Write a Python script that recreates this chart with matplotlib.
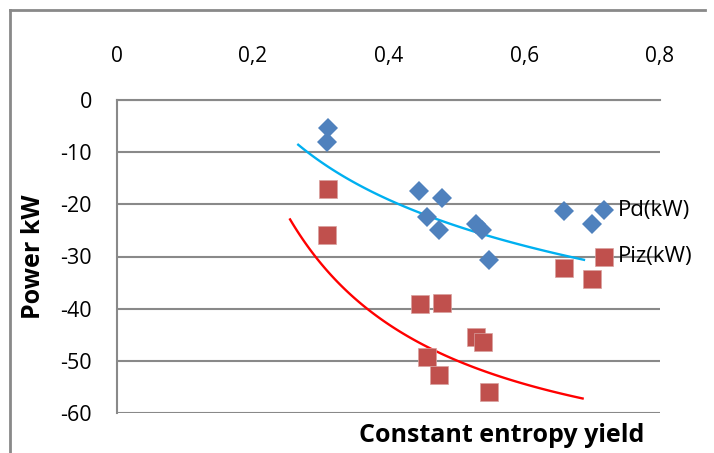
import matplotlib
matplotlib.use('Agg')
import matplotlib.pyplot as plt
from matplotlib.lines import Line2D
import numpy as np

pd_x = [0.311, 0.309, 0.445, 0.479, 0.457, 0.475, 0.529, 0.538, 0.548, 0.659, 0.700, 0.718]
pd_y = [-5.4, -8.0, -17.4, -18.7, -22.5, -25.0, -23.8, -24.9, -30.7, -21.3, -23.8, -21.1]

piz_x = [0.311, 0.309, 0.446, 0.479, 0.529, 0.539, 0.457, 0.475, 0.548, 0.659, 0.700, 0.717]
piz_y = [-17.1, -25.9, -39.2, -39.0, -45.4, -46.4, -49.3, -52.7, -56.0, -32.3, -34.3, -30.0]

# trend lines, points
pd_trend_x = [0.267, 0.338, 0.412, 0.461, 0.535, 0.608, 0.688]
pd_trend_y = [-8.9, -14.1, -19.9, -23.0, -25.6, -28.1, -30.5]
piz_trend_x = [0.255, 0.289, 0.363, 0.461, 0.535, 0.608, 0.686]
piz_trend_y = [-22.4, -30.0, -39.9, -47.3, -51.1, -54.6, -57.7]

x_ticks = [0, 0.2, 0.4, 0.6, 0.8]
x_labels = ['0', '0,2', '0,4', '0,6', '0,8']
y_ticks = [0, -10, -20, -30, -40, -50, -60]
y_labels = ['0', '-10', '-20', '-30', '-40', '-50', '-60']

plt.rcParams['font.family'] = ['Open Sans', 'DejaVu Sans']

grey = '#898989'
fig = plt.figure(figsize=(7.14, 4.53), dpi=100)
ax = fig.add_axes([117 / 714, 40 / 453, 543 / 714, 313 / 453])


def smooth(xs, ys):
    # least squares on 1, ln(x), 1/x -> smooth decreasing curve
    xs = np.asarray(xs)
    A = np.column_stack([np.ones_like(xs), np.log(xs), 1 / xs])
    c, *_ = np.linalg.lstsq(A, np.asarray(ys), rcond=None)
    xx = np.linspace(xs.min(), xs.max(), 120)
    return xx, c[0] + c[1] * np.log(xx) + c[2] / xx


tx, ty = smooth(pd_trend_x, pd_trend_y)
ax.plot(tx, ty, color='#00B0F0', lw=1.7, zorder=2)
tx, ty = smooth(piz_trend_x, piz_trend_y)
ax.plot(tx, ty, color='#FF0000', lw=1.7, zorder=2)

ax.plot(pd_x, pd_y, 'D', color='#4F81BD', markersize=9.8, markeredgewidth=0, zorder=3)
ax.plot(piz_x, piz_y, 's', color='#C0504D', markersize=13.5, markeredgecolor='#D8A09E',
        markeredgewidth=0.5, zorder=3)

ax.annotate('Pd(kW)', (pd_x[-1], pd_y[-1]), xytext=(10, 0), textcoords='offset points',
            va='center', ha='left', fontsize=16, annotation_clip=False)
ax.annotate('Piz(kW)', (piz_x[-1], piz_y[-1]), xytext=(10, 0), textcoords='offset points',
            va='center', ha='left', fontsize=16, annotation_clip=False)

ax.set_xlim(0, 0.8)
ax.set_ylim(-60, 0)
ax.xaxis.tick_top()
ax.set_xticks(x_ticks)
ax.set_xticklabels(x_labels, fontsize=15)
ax.set_yticks(y_ticks)
ax.set_yticklabels(y_labels, fontsize=15.5)
ax.tick_params(axis='x', length=0, pad=24)
ax.tick_params(axis='y', length=0, pad=18)

ax.grid(axis='y', color=grey, lw=1.5)
ax.set_axisbelow(True)
for s in ['right', 'bottom']:
    ax.spines[s].set_visible(False)
for s in ['left', 'top']:
    ax.spines[s].set_color(grey)
    ax.spines[s].set_linewidth(1.5)

ax.xaxis.set_label_position('bottom')
ax.set_xlabel('Constant entropy yield', fontsize=18, fontweight='bold', va='center')
ax.xaxis.set_label_coords((502 - 117) / 543, (413 - 436) / 313)
ax.set_ylabel('Power kW', fontsize=18, fontweight='bold', va='center')
ax.yaxis.set_label_coords((33 - 117) / 543, 0.5)

# outer chart frame (only top and left visible)
fig.add_artist(Line2D([10 / 714, 10 / 714], [0, 1 - 10 / 453], color=grey, lw=2))
fig.add_artist(Line2D([10 / 714, 705 / 714], [1 - 10 / 453, 1 - 10 / 453], color=grey, lw=2))

fig.savefig('out.png', dpi=100)
